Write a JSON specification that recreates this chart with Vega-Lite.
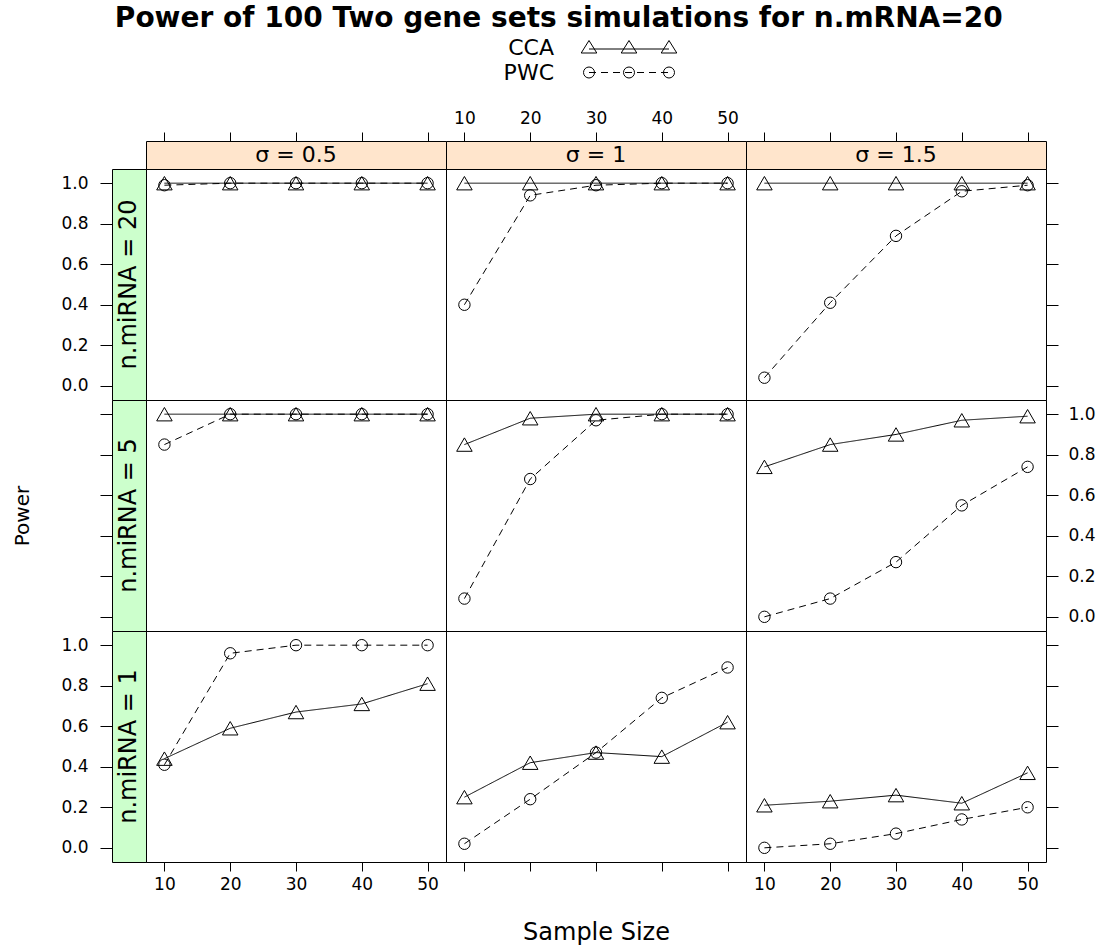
{
  "$schema": "https://vega.github.io/schema/vega-lite/v6.json",
  "padding": {"left": 12, "top": 5, "right": 4, "bottom": 5},
  "title": {
    "text": "Power of 100 Two gene sets simulations for n.mRNA=20",
    "font": "DejaVu Sans",
    "fontWeight": "bold",
    "fontSize": 28,
    "color": "black",
    "anchor": "middle",
    "offset": 2,
    "dx": 5
  },
  "datasets": {
    "power": [
      {"sigma": "0.5", "mirna": 20, "series": "CCA", "n": 10, "power": 1.0},
      {"sigma": "0.5", "mirna": 20, "series": "CCA", "n": 20, "power": 1.0},
      {"sigma": "0.5", "mirna": 20, "series": "CCA", "n": 30, "power": 1.0},
      {"sigma": "0.5", "mirna": 20, "series": "CCA", "n": 40, "power": 1.0},
      {"sigma": "0.5", "mirna": 20, "series": "CCA", "n": 50, "power": 1.0},
      {"sigma": "0.5", "mirna": 20, "series": "PWC", "n": 10, "power": 0.99},
      {"sigma": "0.5", "mirna": 20, "series": "PWC", "n": 20, "power": 1.0},
      {"sigma": "0.5", "mirna": 20, "series": "PWC", "n": 30, "power": 1.0},
      {"sigma": "0.5", "mirna": 20, "series": "PWC", "n": 40, "power": 1.0},
      {"sigma": "0.5", "mirna": 20, "series": "PWC", "n": 50, "power": 1.0},
      {"sigma": "1", "mirna": 20, "series": "CCA", "n": 10, "power": 1.0},
      {"sigma": "1", "mirna": 20, "series": "CCA", "n": 20, "power": 1.0},
      {"sigma": "1", "mirna": 20, "series": "CCA", "n": 30, "power": 1.0},
      {"sigma": "1", "mirna": 20, "series": "CCA", "n": 40, "power": 1.0},
      {"sigma": "1", "mirna": 20, "series": "CCA", "n": 50, "power": 1.0},
      {"sigma": "1", "mirna": 20, "series": "PWC", "n": 10, "power": 0.40},
      {"sigma": "1", "mirna": 20, "series": "PWC", "n": 20, "power": 0.94},
      {"sigma": "1", "mirna": 20, "series": "PWC", "n": 30, "power": 0.99},
      {"sigma": "1", "mirna": 20, "series": "PWC", "n": 40, "power": 1.0},
      {"sigma": "1", "mirna": 20, "series": "PWC", "n": 50, "power": 1.0},
      {"sigma": "1.5", "mirna": 20, "series": "CCA", "n": 10, "power": 1.0},
      {"sigma": "1.5", "mirna": 20, "series": "CCA", "n": 20, "power": 1.0},
      {"sigma": "1.5", "mirna": 20, "series": "CCA", "n": 30, "power": 1.0},
      {"sigma": "1.5", "mirna": 20, "series": "CCA", "n": 40, "power": 1.0},
      {"sigma": "1.5", "mirna": 20, "series": "CCA", "n": 50, "power": 1.0},
      {"sigma": "1.5", "mirna": 20, "series": "PWC", "n": 10, "power": 0.04},
      {"sigma": "1.5", "mirna": 20, "series": "PWC", "n": 20, "power": 0.41},
      {"sigma": "1.5", "mirna": 20, "series": "PWC", "n": 30, "power": 0.74},
      {"sigma": "1.5", "mirna": 20, "series": "PWC", "n": 40, "power": 0.96},
      {"sigma": "1.5", "mirna": 20, "series": "PWC", "n": 50, "power": 0.99},
      {"sigma": "0.5", "mirna": 5, "series": "CCA", "n": 10, "power": 1.0},
      {"sigma": "0.5", "mirna": 5, "series": "CCA", "n": 20, "power": 1.0},
      {"sigma": "0.5", "mirna": 5, "series": "CCA", "n": 30, "power": 1.0},
      {"sigma": "0.5", "mirna": 5, "series": "CCA", "n": 40, "power": 1.0},
      {"sigma": "0.5", "mirna": 5, "series": "CCA", "n": 50, "power": 1.0},
      {"sigma": "0.5", "mirna": 5, "series": "PWC", "n": 10, "power": 0.85},
      {"sigma": "0.5", "mirna": 5, "series": "PWC", "n": 20, "power": 1.0},
      {"sigma": "0.5", "mirna": 5, "series": "PWC", "n": 30, "power": 1.0},
      {"sigma": "0.5", "mirna": 5, "series": "PWC", "n": 40, "power": 1.0},
      {"sigma": "0.5", "mirna": 5, "series": "PWC", "n": 50, "power": 1.0},
      {"sigma": "1", "mirna": 5, "series": "CCA", "n": 10, "power": 0.85},
      {"sigma": "1", "mirna": 5, "series": "CCA", "n": 20, "power": 0.98},
      {"sigma": "1", "mirna": 5, "series": "CCA", "n": 30, "power": 1.0},
      {"sigma": "1", "mirna": 5, "series": "CCA", "n": 40, "power": 1.0},
      {"sigma": "1", "mirna": 5, "series": "CCA", "n": 50, "power": 1.0},
      {"sigma": "1", "mirna": 5, "series": "PWC", "n": 10, "power": 0.09},
      {"sigma": "1", "mirna": 5, "series": "PWC", "n": 20, "power": 0.68},
      {"sigma": "1", "mirna": 5, "series": "PWC", "n": 30, "power": 0.97},
      {"sigma": "1", "mirna": 5, "series": "PWC", "n": 40, "power": 1.0},
      {"sigma": "1", "mirna": 5, "series": "PWC", "n": 50, "power": 1.0},
      {"sigma": "1.5", "mirna": 5, "series": "CCA", "n": 10, "power": 0.74},
      {"sigma": "1.5", "mirna": 5, "series": "CCA", "n": 20, "power": 0.85},
      {"sigma": "1.5", "mirna": 5, "series": "CCA", "n": 30, "power": 0.90},
      {"sigma": "1.5", "mirna": 5, "series": "CCA", "n": 40, "power": 0.97},
      {"sigma": "1.5", "mirna": 5, "series": "CCA", "n": 50, "power": 0.99},
      {"sigma": "1.5", "mirna": 5, "series": "PWC", "n": 10, "power": 0.0},
      {"sigma": "1.5", "mirna": 5, "series": "PWC", "n": 20, "power": 0.09},
      {"sigma": "1.5", "mirna": 5, "series": "PWC", "n": 30, "power": 0.27},
      {"sigma": "1.5", "mirna": 5, "series": "PWC", "n": 40, "power": 0.55},
      {"sigma": "1.5", "mirna": 5, "series": "PWC", "n": 50, "power": 0.74},
      {"sigma": "0.5", "mirna": 1, "series": "CCA", "n": 10, "power": 0.44},
      {"sigma": "0.5", "mirna": 1, "series": "CCA", "n": 20, "power": 0.59},
      {"sigma": "0.5", "mirna": 1, "series": "CCA", "n": 30, "power": 0.67},
      {"sigma": "0.5", "mirna": 1, "series": "CCA", "n": 40, "power": 0.71},
      {"sigma": "0.5", "mirna": 1, "series": "CCA", "n": 50, "power": 0.81},
      {"sigma": "0.5", "mirna": 1, "series": "PWC", "n": 10, "power": 0.41},
      {"sigma": "0.5", "mirna": 1, "series": "PWC", "n": 20, "power": 0.96},
      {"sigma": "0.5", "mirna": 1, "series": "PWC", "n": 30, "power": 1.0},
      {"sigma": "0.5", "mirna": 1, "series": "PWC", "n": 40, "power": 1.0},
      {"sigma": "0.5", "mirna": 1, "series": "PWC", "n": 50, "power": 1.0},
      {"sigma": "1", "mirna": 1, "series": "CCA", "n": 10, "power": 0.25},
      {"sigma": "1", "mirna": 1, "series": "CCA", "n": 20, "power": 0.42},
      {"sigma": "1", "mirna": 1, "series": "CCA", "n": 30, "power": 0.47},
      {"sigma": "1", "mirna": 1, "series": "CCA", "n": 40, "power": 0.45},
      {"sigma": "1", "mirna": 1, "series": "CCA", "n": 50, "power": 0.62},
      {"sigma": "1", "mirna": 1, "series": "PWC", "n": 10, "power": 0.02},
      {"sigma": "1", "mirna": 1, "series": "PWC", "n": 20, "power": 0.24},
      {"sigma": "1", "mirna": 1, "series": "PWC", "n": 30, "power": 0.47},
      {"sigma": "1", "mirna": 1, "series": "PWC", "n": 40, "power": 0.74},
      {"sigma": "1", "mirna": 1, "series": "PWC", "n": 50, "power": 0.89},
      {"sigma": "1.5", "mirna": 1, "series": "CCA", "n": 10, "power": 0.21},
      {"sigma": "1.5", "mirna": 1, "series": "CCA", "n": 20, "power": 0.23},
      {"sigma": "1.5", "mirna": 1, "series": "CCA", "n": 30, "power": 0.26},
      {"sigma": "1.5", "mirna": 1, "series": "CCA", "n": 40, "power": 0.22},
      {"sigma": "1.5", "mirna": 1, "series": "CCA", "n": 50, "power": 0.37},
      {"sigma": "1.5", "mirna": 1, "series": "PWC", "n": 10, "power": 0.0},
      {"sigma": "1.5", "mirna": 1, "series": "PWC", "n": 20, "power": 0.02},
      {"sigma": "1.5", "mirna": 1, "series": "PWC", "n": 30, "power": 0.07},
      {"sigma": "1.5", "mirna": 1, "series": "PWC", "n": 40, "power": 0.14},
      {"sigma": "1.5", "mirna": 1, "series": "PWC", "n": 50, "power": 0.20}
    ],
    "key": [{"series": "CCA"}, {"series": "PWC"}]
  },
  "spacing": 23,
  "vconcat": [
    {
      "spacing": 20,
      "hconcat": [
        {
          "width": 442, "height": 50,
          "data": {"name": "key"},
          "mark": {"type": "text", "align": "right", "baseline": "middle", "fontSize": 22, "color": "black"},
          "encoding": {
            "text": {"field": "series"},
            "x": {"value": "width"},
            "y": {"field": "series", "type": "nominal", "axis": null}
          }
        },
        {
          "width": 110, "height": 50,
          "data": {"name": "key"},
          "encoding": {"y": {"field": "series", "type": "nominal", "axis": null}},
          "layer": [
            {
              "transform": [{"filter": "datum.series === 'CCA'"}],
              "mark": {"type": "point", "filled": false, "color": "black", "strokeWidth": 1, "opacity": 1, "size": 400,
                "shape": "M-4,0.15L4,0.15M-4.78,0.55L-4,-0.7L-3.22,0.55ZM-0.78,0.55L0,-0.7L0.78,0.55ZM3.22,0.55L4,-0.7L4.78,0.55Z"}
            },
            {
              "transform": [{"filter": "datum.series === 'PWC'"}],
              "mark": {"type": "point", "filled": false, "color": "black", "strokeWidth": 1, "opacity": 1, "size": 400,
                "shape": "M-4.55,0A0.55,0.55 0 1 0 -3.45,0A0.55,0.55 0 1 0 -4.55,0ZM-0.55,0A0.55,0.55 0 1 0 0.55,0A0.55,0.55 0 1 0 -0.55,0ZM3.45,0A0.55,0.55 0 1 0 4.55,0A0.55,0.55 0 1 0 3.45,0ZM-4,0L-3.3,0M-2.8,0L-2.1,0M-1.6,0L-0.9,0M-0.4,0L0.3,0M0.8,0L1.5,0M2,0L2.7,0M3.2,0L3.9,0"}
            }
          ]
        }
      ]
    },
    {
      "columns": 4,
      "spacing": 0,
      "bounds": "flush",
      "align": "each",
      "concat": [
        {"width": 34, "height": 28, "data": {"values": []}, "mark": "point"},
        {
          "width": 300, "height": 28,
          "view": {"fill": "#FFE5CC", "stroke": "black"},
          "data": {"values": [{"label": "σ = 0.5"}]},
          "mark": {"type": "text", "fontSize": 22, "baseline": "middle", "color": "black"},
          "encoding": {
            "text": {"field": "label"},
            "x": {"datum": 30, "type": "quantitative", "scale": {"domain": [7.2, 52.8], "nice": false, "zero": false},
              "axis": {"orient": "top", "values": [10, 20, 30, 40, 50], "labels": false, "title": null, "tickSize": 9}}
          }
        },
        {
          "width": 300, "height": 28,
          "view": {"fill": "#FFE5CC", "stroke": "black"},
          "data": {"values": [{"label": "σ = 1"}]},
          "mark": {"type": "text", "fontSize": 22, "baseline": "middle", "color": "black"},
          "encoding": {
            "text": {"field": "label"},
            "x": {"datum": 30, "type": "quantitative", "scale": {"domain": [7.2, 52.8], "nice": false, "zero": false},
              "axis": {"orient": "top", "values": [10, 20, 30, 40, 50], "format": "d", "title": null, "tickSize": 9, "labelPadding": 5}}
          }
        },
        {
          "width": 300, "height": 28,
          "view": {"fill": "#FFE5CC", "stroke": "black"},
          "data": {"values": [{"label": "σ = 1.5"}]},
          "mark": {"type": "text", "fontSize": 22, "baseline": "middle", "color": "black"},
          "encoding": {
            "text": {"field": "label"},
            "x": {"datum": 30, "type": "quantitative", "scale": {"domain": [7.2, 52.8], "nice": false, "zero": false},
              "axis": {"orient": "top", "values": [10, 20, 30, 40, 50], "labels": false, "title": null, "tickSize": 9}}
          }
        },
        {
          "width": 34, "height": 231,
          "view": {"fill": "#CCFFCC", "stroke": "black"},
          "data": {"values": [{"label": "n.miRNA = 20"}]},
          "mark": {"type": "text", "fontSize": 24, "angle": 270, "baseline": "middle", "color": "black"},
          "encoding": {
            "text": {"field": "label"},
            "y": {"datum": 0.5, "type": "quantitative", "scale": {"domain": [-0.07, 1.07], "nice": false, "zero": false},
              "axis": {"orient": "left", "values": [0, 0.2, 0.4, 0.6, 0.8, 1], "format": ".1f", "title": null, "tickSize": 12, "labelPadding": 12}}
          }
        },
        {
          "width": 300, "height": 231, "view": {"stroke": "black"},
          "data": {"name": "power"},
          "transform": [{"filter": "datum.sigma === '0.5' && datum.mirna === 20"}],
          "encoding": {
            "x": {"field": "n", "type": "quantitative", "scale": {"domain": [7.2, 52.8], "nice": false, "zero": false}, "axis": null},
            "y": {"field": "power", "type": "quantitative", "scale": {"domain": [-0.07, 1.07], "nice": false, "zero": false}, "axis": null}
          },
          "layer": [
            {"mark": {"type": "line", "color": "black", "strokeWidth": 1},
              "encoding": {"strokeDash": {"field": "series", "type": "nominal", "scale": {"domain": ["CCA", "PWC"], "range": [[1, 0], [7, 5]]}, "legend": null}}},
            {"mark": {"type": "point", "filled": false, "color": "black", "strokeWidth": 1, "opacity": 1},
              "encoding": {
                "shape": {"field": "series", "type": "nominal", "scale": {"domain": ["CCA", "PWC"], "range": ["triangle-up", "circle"]}, "legend": null},
                "size": {"field": "series", "type": "nominal", "scale": {"domain": ["CCA", "PWC"], "range": [240, 130]}, "legend": null}
              }}
          ]
        },
        {
          "width": 300, "height": 231, "view": {"stroke": "black"},
          "data": {"name": "power"},
          "transform": [{"filter": "datum.sigma === '1' && datum.mirna === 20"}],
          "encoding": {
            "x": {"field": "n", "type": "quantitative", "scale": {"domain": [7.2, 52.8], "nice": false, "zero": false}, "axis": null},
            "y": {"field": "power", "type": "quantitative", "scale": {"domain": [-0.07, 1.07], "nice": false, "zero": false}, "axis": null}
          },
          "layer": [
            {"mark": {"type": "line", "color": "black", "strokeWidth": 1},
              "encoding": {"strokeDash": {"field": "series", "type": "nominal", "scale": {"domain": ["CCA", "PWC"], "range": [[1, 0], [7, 5]]}, "legend": null}}},
            {"mark": {"type": "point", "filled": false, "color": "black", "strokeWidth": 1, "opacity": 1},
              "encoding": {
                "shape": {"field": "series", "type": "nominal", "scale": {"domain": ["CCA", "PWC"], "range": ["triangle-up", "circle"]}, "legend": null},
                "size": {"field": "series", "type": "nominal", "scale": {"domain": ["CCA", "PWC"], "range": [240, 130]}, "legend": null}
              }}
          ]
        },
        {
          "width": 300, "height": 231, "view": {"stroke": "black"},
          "data": {"name": "power"},
          "transform": [{"filter": "datum.sigma === '1.5' && datum.mirna === 20"}],
          "encoding": {
            "x": {"field": "n", "type": "quantitative", "scale": {"domain": [7.2, 52.8], "nice": false, "zero": false}, "axis": null},
            "y": {"field": "power", "type": "quantitative", "scale": {"domain": [-0.07, 1.07], "nice": false, "zero": false},
              "axis": {"orient": "right", "values": [0, 0.2, 0.4, 0.6, 0.8, 1], "labels": false, "title": null, "tickSize": 12}}
          },
          "layer": [
            {"mark": {"type": "line", "color": "black", "strokeWidth": 1},
              "encoding": {"strokeDash": {"field": "series", "type": "nominal", "scale": {"domain": ["CCA", "PWC"], "range": [[1, 0], [7, 5]]}, "legend": null}}},
            {"mark": {"type": "point", "filled": false, "color": "black", "strokeWidth": 1, "opacity": 1},
              "encoding": {
                "shape": {"field": "series", "type": "nominal", "scale": {"domain": ["CCA", "PWC"], "range": ["triangle-up", "circle"]}, "legend": null},
                "size": {"field": "series", "type": "nominal", "scale": {"domain": ["CCA", "PWC"], "range": [240, 130]}, "legend": null}
              }}
          ]
        },
        {
          "width": 34, "height": 231,
          "view": {"fill": "#CCFFCC", "stroke": "black"},
          "data": {"values": [{"label": "n.miRNA = 5"}]},
          "mark": {"type": "text", "fontSize": 24, "angle": 270, "baseline": "middle", "color": "black"},
          "encoding": {
            "text": {"field": "label"},
            "y": {"datum": 0.5, "type": "quantitative", "scale": {"domain": [-0.07, 1.07], "nice": false, "zero": false},
              "axis": {"orient": "left", "values": [0, 0.2, 0.4, 0.6, 0.8, 1], "labels": false, "title": "Power", "titleFontSize": 20, "titlePadding": 67, "tickSize": 12}}
          }
        },
        {
          "width": 300, "height": 231, "view": {"stroke": "black"},
          "data": {"name": "power"},
          "transform": [{"filter": "datum.sigma === '0.5' && datum.mirna === 5"}],
          "encoding": {
            "x": {"field": "n", "type": "quantitative", "scale": {"domain": [7.2, 52.8], "nice": false, "zero": false}, "axis": null},
            "y": {"field": "power", "type": "quantitative", "scale": {"domain": [-0.07, 1.07], "nice": false, "zero": false}, "axis": null}
          },
          "layer": [
            {"mark": {"type": "line", "color": "black", "strokeWidth": 1},
              "encoding": {"strokeDash": {"field": "series", "type": "nominal", "scale": {"domain": ["CCA", "PWC"], "range": [[1, 0], [7, 5]]}, "legend": null}}},
            {"mark": {"type": "point", "filled": false, "color": "black", "strokeWidth": 1, "opacity": 1},
              "encoding": {
                "shape": {"field": "series", "type": "nominal", "scale": {"domain": ["CCA", "PWC"], "range": ["triangle-up", "circle"]}, "legend": null},
                "size": {"field": "series", "type": "nominal", "scale": {"domain": ["CCA", "PWC"], "range": [240, 130]}, "legend": null}
              }}
          ]
        },
        {
          "width": 300, "height": 231, "view": {"stroke": "black"},
          "data": {"name": "power"},
          "transform": [{"filter": "datum.sigma === '1' && datum.mirna === 5"}],
          "encoding": {
            "x": {"field": "n", "type": "quantitative", "scale": {"domain": [7.2, 52.8], "nice": false, "zero": false}, "axis": null},
            "y": {"field": "power", "type": "quantitative", "scale": {"domain": [-0.07, 1.07], "nice": false, "zero": false}, "axis": null}
          },
          "layer": [
            {"mark": {"type": "line", "color": "black", "strokeWidth": 1},
              "encoding": {"strokeDash": {"field": "series", "type": "nominal", "scale": {"domain": ["CCA", "PWC"], "range": [[1, 0], [7, 5]]}, "legend": null}}},
            {"mark": {"type": "point", "filled": false, "color": "black", "strokeWidth": 1, "opacity": 1},
              "encoding": {
                "shape": {"field": "series", "type": "nominal", "scale": {"domain": ["CCA", "PWC"], "range": ["triangle-up", "circle"]}, "legend": null},
                "size": {"field": "series", "type": "nominal", "scale": {"domain": ["CCA", "PWC"], "range": [240, 130]}, "legend": null}
              }}
          ]
        },
        {
          "width": 300, "height": 231, "view": {"stroke": "black"},
          "data": {"name": "power"},
          "transform": [{"filter": "datum.sigma === '1.5' && datum.mirna === 5"}],
          "encoding": {
            "x": {"field": "n", "type": "quantitative", "scale": {"domain": [7.2, 52.8], "nice": false, "zero": false}, "axis": null},
            "y": {"field": "power", "type": "quantitative", "scale": {"domain": [-0.07, 1.07], "nice": false, "zero": false},
              "axis": {"orient": "right", "values": [0, 0.2, 0.4, 0.6, 0.8, 1], "format": ".1f", "title": null, "tickSize": 12, "labelPadding": 10}}
          },
          "layer": [
            {"mark": {"type": "line", "color": "black", "strokeWidth": 1},
              "encoding": {"strokeDash": {"field": "series", "type": "nominal", "scale": {"domain": ["CCA", "PWC"], "range": [[1, 0], [7, 5]]}, "legend": null}}},
            {"mark": {"type": "point", "filled": false, "color": "black", "strokeWidth": 1, "opacity": 1},
              "encoding": {
                "shape": {"field": "series", "type": "nominal", "scale": {"domain": ["CCA", "PWC"], "range": ["triangle-up", "circle"]}, "legend": null},
                "size": {"field": "series", "type": "nominal", "scale": {"domain": ["CCA", "PWC"], "range": [240, 130]}, "legend": null}
              }}
          ]
        },
        {
          "width": 34, "height": 231,
          "view": {"fill": "#CCFFCC", "stroke": "black"},
          "data": {"values": [{"label": "n.miRNA = 1"}]},
          "mark": {"type": "text", "fontSize": 24, "angle": 270, "baseline": "middle", "color": "black"},
          "encoding": {
            "text": {"field": "label"},
            "y": {"datum": 0.5, "type": "quantitative", "scale": {"domain": [-0.07, 1.07], "nice": false, "zero": false},
              "axis": {"orient": "left", "values": [0, 0.2, 0.4, 0.6, 0.8, 1], "format": ".1f", "title": null, "tickSize": 12, "labelPadding": 12}}
          }
        },
        {
          "width": 300, "height": 231, "view": {"stroke": "black"},
          "data": {"name": "power"},
          "transform": [{"filter": "datum.sigma === '0.5' && datum.mirna === 1"}],
          "encoding": {
            "x": {"field": "n", "type": "quantitative", "scale": {"domain": [7.2, 52.8], "nice": false, "zero": false},
              "axis": {"orient": "bottom", "values": [10, 20, 30, 40, 50], "format": "d", "title": null, "tickSize": 9, "labelPadding": 5}},
            "y": {"field": "power", "type": "quantitative", "scale": {"domain": [-0.07, 1.07], "nice": false, "zero": false}, "axis": null}
          },
          "layer": [
            {"mark": {"type": "line", "color": "black", "strokeWidth": 1},
              "encoding": {"strokeDash": {"field": "series", "type": "nominal", "scale": {"domain": ["CCA", "PWC"], "range": [[1, 0], [7, 5]]}, "legend": null}}},
            {"mark": {"type": "point", "filled": false, "color": "black", "strokeWidth": 1, "opacity": 1},
              "encoding": {
                "shape": {"field": "series", "type": "nominal", "scale": {"domain": ["CCA", "PWC"], "range": ["triangle-up", "circle"]}, "legend": null},
                "size": {"field": "series", "type": "nominal", "scale": {"domain": ["CCA", "PWC"], "range": [240, 130]}, "legend": null}
              }}
          ]
        },
        {
          "width": 300, "height": 231, "view": {"stroke": "black"},
          "data": {"name": "power"},
          "transform": [{"filter": "datum.sigma === '1' && datum.mirna === 1"}],
          "encoding": {
            "x": {"field": "n", "type": "quantitative", "scale": {"domain": [7.2, 52.8], "nice": false, "zero": false},
              "axis": {"orient": "bottom", "values": [10, 20, 30, 40, 50], "labels": false, "title": "Sample Size", "titlePadding": 49, "tickSize": 9}},
            "y": {"field": "power", "type": "quantitative", "scale": {"domain": [-0.07, 1.07], "nice": false, "zero": false}, "axis": null}
          },
          "layer": [
            {"mark": {"type": "line", "color": "black", "strokeWidth": 1},
              "encoding": {"strokeDash": {"field": "series", "type": "nominal", "scale": {"domain": ["CCA", "PWC"], "range": [[1, 0], [7, 5]]}, "legend": null}}},
            {"mark": {"type": "point", "filled": false, "color": "black", "strokeWidth": 1, "opacity": 1},
              "encoding": {
                "shape": {"field": "series", "type": "nominal", "scale": {"domain": ["CCA", "PWC"], "range": ["triangle-up", "circle"]}, "legend": null},
                "size": {"field": "series", "type": "nominal", "scale": {"domain": ["CCA", "PWC"], "range": [240, 130]}, "legend": null}
              }}
          ]
        },
        {
          "width": 300, "height": 231, "view": {"stroke": "black"},
          "data": {"name": "power"},
          "transform": [{"filter": "datum.sigma === '1.5' && datum.mirna === 1"}],
          "encoding": {
            "x": {"field": "n", "type": "quantitative", "scale": {"domain": [7.2, 52.8], "nice": false, "zero": false},
              "axis": {"orient": "bottom", "values": [10, 20, 30, 40, 50], "format": "d", "title": null, "tickSize": 9, "labelPadding": 5}},
            "y": {"field": "power", "type": "quantitative", "scale": {"domain": [-0.07, 1.07], "nice": false, "zero": false},
              "axis": {"orient": "right", "values": [0, 0.2, 0.4, 0.6, 0.8, 1], "labels": false, "title": null, "tickSize": 12}}
          },
          "layer": [
            {"mark": {"type": "line", "color": "black", "strokeWidth": 1},
              "encoding": {"strokeDash": {"field": "series", "type": "nominal", "scale": {"domain": ["CCA", "PWC"], "range": [[1, 0], [7, 5]]}, "legend": null}}},
            {"mark": {"type": "point", "filled": false, "color": "black", "strokeWidth": 1, "opacity": 1},
              "encoding": {
                "shape": {"field": "series", "type": "nominal", "scale": {"domain": ["CCA", "PWC"], "range": ["triangle-up", "circle"]}, "legend": null},
                "size": {"field": "series", "type": "nominal", "scale": {"domain": ["CCA", "PWC"], "range": [240, 130]}, "legend": null}
              }}
          ]
        }
      ]
    }
  ],
  "config": {
    "font": "DejaVu Sans",
    "view": {"stroke": null},
    "text": {"font": "DejaVu Sans", "color": "black"},
    "axis": {
      "domain": false,
      "grid": false,
      "ticks": true,
      "tickColor": "black",
      "tickWidth": 1,
      "labelColor": "black",
      "labelFont": "DejaVu Sans",
      "labelFontSize": 17,
      "titleColor": "black",
      "titleFont": "DejaVu Sans",
      "titleFontSize": 24,
      "titleFontWeight": "normal"
    }
  }
}
